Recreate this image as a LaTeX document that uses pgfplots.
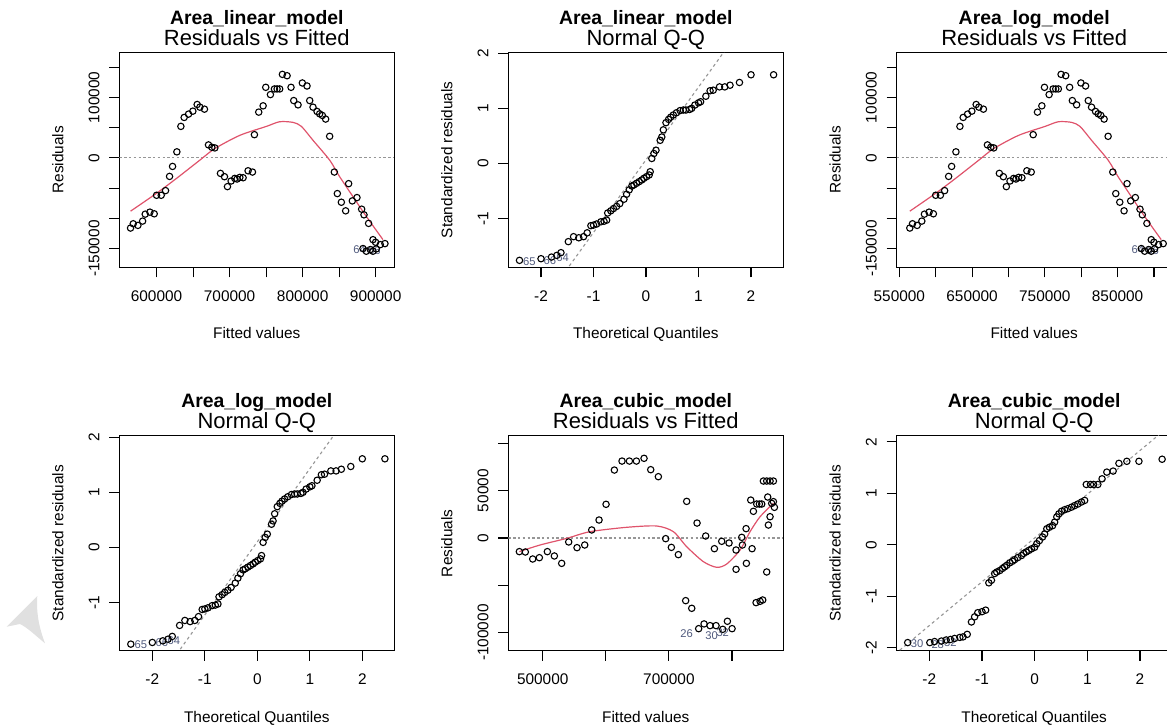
\documentclass[border=0pt]{standalone}
\usepackage{fontspec}
\setmainfont{Liberation Sans}
\usepackage{pgfplots}
\usepackage{pgfplotstable}
\pgfplotsset{compat=1.18}

\definecolor{lowess}{HTML}{DF536B}
\definecolor{idlab}{RGB}{80,90,125}
\definecolor{refgray}{RGB}{150,150,150}

\newcommand\tk{\fontsize{7.7bp}{9bp}\selectfont}
\newcommand\capt{\fontsize{11bp}{13bp}\selectfont}
\newcommand\mtitle{\fontsize{9.7bp}{11bp}\selectfont\bfseries}
\newcommand\idf{\fontsize{5.6bp}{6.5bp}\selectfont}

% residuals vs fitted, linear / log model
\pgfplotstableread{
x y
564400 -116100
568100 -109000
574500 -111700
580900 -104600
584500 -93100
590900 -89800
596800 -92500
600000 -61900
606400 -61900
612300 -54200
617800 -30700
621900 -14200
627800 9900
633300 52000
637800 66800
643800 72300
649700 77200
655600 88200
659300 83800
665600 80500
671100 21400
675700 17500
679800 16400
687500 -25700
693000 -31200
697100 -47600
702100 -38300
707100 -34000
710300 -35000
714000 -32300
718500 -32900
725300 -21400
731300 -23500
734000 38300
739900 75600
745900 86000
749500 116600
755900 104600
761400 113900
765000 113900
768600 113900
772300 138000
778700 135800
784100 116600
787800 94700
793700 87600
799600 123800
806000 118800
809700 94700
814200 83800
819700 76700
823300 72800
827000 70100
831500 64100
837000 35600
843400 -23500
847500 -59100
853000 -73400
858900 -87600
863000 -42700
868000 -71200
874400 -65700
880800 -84900
884000 -94200
890300 -108400
896300 -135300
899900 -139600
906300 -143500
912700 -141800
882600 -150000
887200 -154400
892600 -151700
896300 -154400
900800 -150600
}\rvfA

\pgfplotstableread{
x y
564400 -88200
600000 -58600
627300 -34000
659300 -3800
679800 15300
714000 37200
750400 52000
768600 59700
786900 58600
798300 52000
814200 29000
837000 -3800
850700 -31200
868900 -64100
887200 -96900
910000 -135300
}\lowA

% normal Q-Q, linear / log model
\pgfplotstableread{
x y
-2.41 -1.76
-2.00 -1.73
-1.80 -1.70
-1.70 -1.67
-1.62 -1.62
-1.48 -1.42
-1.38 -1.33
-1.28 -1.35
-1.19 -1.33
-1.12 -1.26
-1.05 -1.13
-1.00 -1.12
-0.94 -1.10
-0.86 -1.06
-0.80 -1.05
-0.75 -1.03
-0.73 -0.90
-0.67 -0.86
-0.62 -0.82
-0.56 -0.78
-0.50 -0.73
-0.42 -0.65
-0.37 -0.56
-0.32 -0.48
-0.27 -0.41
-0.23 -0.39
-0.18 -0.36
-0.13 -0.33
-0.08 -0.30
-0.04 -0.27
0.01 -0.24
0.06 -0.21
0.08 -0.15
0.11 0.09
0.15 0.18
0.19 0.24
0.27 0.42
0.30 0.48
0.33 0.61
0.38 0.74
0.43 0.80
0.47 0.84
0.52 0.88
0.58 0.92
0.65 0.96
0.71 0.97
0.76 0.97
0.83 0.98
0.87 1.00
0.93 1.06
1.00 1.10
1.04 1.12
1.14 1.22
1.22 1.32
1.28 1.33
1.40 1.39
1.50 1.39
1.60 1.42
1.78 1.47
2.00 1.61
2.43 1.61
}\qqA

% residuals vs fitted, cubic model
\pgfplotstableread{
x y
463000 -14400
472500 -14800
484200 -22200
494700 -20800
507400 -14400
518500 -19000
530100 -26800
541200 -4200
554400 -10200
566600 -7400
577700 8500
589300 19000
600400 35600
613600 71800
625700 81300
637400 81300
648500 81300
660600 84200
671200 72200
683300 64800
694900 -700
703900 -9900
715000 -17600
728200 38700
726600 -66200
736200 -74300
744600 15800
747200 -95800
755700 -90800
758300 2100
765200 -92600
772100 -11300
774700 -92600
783700 -3500
785300 -96500
792700 -88000
795300 -5300
800100 -95800
806400 -12700
806400 -33100
815400 700
816500 -7400
822300 9900
822800 -26800
831800 -11300
829700 40100
833900 28200
839200 35900
843400 35900
847100 35900
838100 -68300
844500 -66900
848700 -65500
849700 60200
855000 60200
860300 60200
865600 60200
855000 -35900
856600 43300
857700 13700
860300 22500
862900 36600
865600 38400
867200 32400
}\rvfC

\pgfplotstableread{
x y
463000 -14400
495800 -7400
538000 -400
575000 6700
633100 11300
680700 12700
707100 6700
728200 -9200
754600 -25000
775800 -31000
791600 -27500
812800 -12700
828600 6700
844500 22500
865600 36600
}\lowC

% normal Q-Q, cubic model
\pgfplotstableread{
x y
-2.41 -1.90
-1.99 -1.90
-1.90 -1.88
-1.77 -1.87
-1.68 -1.85
-1.60 -1.84
-1.52 -1.82
-1.42 -1.80
-1.36 -1.79
-1.28 -1.74
-1.20 -1.50
-1.14 -1.40
-1.08 -1.32
-1.00 -1.30
-0.93 -1.27
-0.87 -0.74
-0.82 -0.69
-0.76 -0.56
-0.72 -0.53
-0.66 -0.50
-0.61 -0.46
-0.57 -0.43
-0.53 -0.40
-0.47 -0.35
-0.42 -0.32
-0.38 -0.29
-0.32 -0.25
-0.25 -0.21
-0.21 -0.17
-0.16 -0.14
-0.11 -0.11
-0.06 -0.08
0.00 -0.05
0.04 0.02
0.09 0.08
0.15 0.15
0.19 0.21
0.23 0.31
0.28 0.34
0.34 0.37
0.38 0.44
0.42 0.54
0.46 0.60
0.51 0.65
0.57 0.68
0.63 0.70
0.70 0.73
0.76 0.76
0.82 0.79
0.89 0.83
0.95 0.86
0.98 1.17
1.06 1.17
1.12 1.17
1.20 1.17
1.28 1.28
1.37 1.41
1.49 1.43
1.60 1.58
1.75 1.62
1.98 1.62
2.42 1.66
}\qqC

\tikzset{idl/.style={font=\idf, text=idlab, inner sep=0pt}}

\pgfplotsset{
  rpanel/.style={
    anchor=north west, scale only axis, width=137.5bp, height=107.5bp,
    axis line style={line width=0.55bp},
    tick align=outside, tick pos=left, major tick length=5bp,
    every tick/.style={black, line width=0.55bp},
    scaled ticks=false,
    xticklabel style={font=\tk, anchor=base},
    yticklabel style={font=\tk, rotate=90, anchor=base},
    xticklabel shift=12bp, yticklabel shift=5bp,
    clip=true,
  },
  pts/.style={black, only marks, mark=o, mark size=1.6bp,
    mark options={line width=0.55bp}},
  zero/.style={refgray, dash pattern=on 1.2bp off 1.2bp, line width=0.55bp},
  qql/.style={refgray, dash pattern=on 1.5bp off 1.5bp, line width=0.55bp},
  low/.style={lowess, line width=0.6bp, no marks, smooth, tension=0.45},
  rvfticks/.style={
    ytick={-150000,-100000,-50000,0,50000,100000,150000},
    yticklabels={-150000,,,0,,100000,},
    ymin=-181000, ymax=174500},
  qqticks/.style={xtick={-2,-1,0,1,2}, xticklabels={-2,-1,0,1,2}},
}

\begin{document}
\begin{tikzpicture}
\useasboundingbox (0,0) rectangle (583.5bp,-363.5bp);

% ---- row 1
\begin{axis}[rpanel, name=p1, at={(59.65bp,-26.15bp)}, rvfticks,
  xmin=549000, xmax=925500,
  xtick={600000,650000,700000,750000,800000,850000,900000},
  xticklabels={600000,,700000,,800000,,900000}]
\addplot[zero] coordinates {(549000,0) (925500,0)};
\addplot[pts] table {\rvfA};
\addplot[low] table {\lowA};
\node[idl, anchor=east] at (axis cs:887000,-152500) {64};
\node[idl, anchor=west] at (axis cs:889000,-153500) {66};
\end{axis}

\begin{axis}[rpanel, name=p2, at={(254.15bp,-26.15bp)}, qqticks,
  xmin=-2.623, xmax=2.615, ymin=-1.886, ymax=2.018,
  ytick={-1,0,1,2}, yticklabels={-1,0,1,2}]
\addplot[qql] coordinates {(-3,-3.894) (3,4.026)};
\addplot[pts] table {\qqA};
\node[idl] at (axis cs:-2.22,-1.79) {65};
\node[idl] at (axis cs:-1.83,-1.77) {66};
\node[idl] at (axis cs:-1.59,-1.71) {64};
\end{axis}

\begin{axis}[rpanel, name=p3, at={(448.35bp,-26.15bp)}, rvfticks,
  xmin=546400, xmax=924400,
  xtick={550000,600000,650000,700000,750000,800000,850000,900000},
  xticklabels={550000,,650000,,750000,,850000,}]
\addplot[zero] coordinates {(546400,0) (924400,0)};
\addplot[pts] table {\rvfA};
\addplot[low] table {\lowA};
\node[idl, anchor=east] at (axis cs:887000,-152500) {64};
\node[idl, anchor=west] at (axis cs:889000,-153500) {66};
\end{axis}

% ---- row 2
\begin{axis}[rpanel, name=p4, at={(59.65bp,-217.85bp)}, qqticks,
  xmin=-2.629, xmax=2.609, ymin=-1.88, ymax=2.03,
  ytick={-1,0,1,2}, yticklabels={-1,0,1,2}]
\addplot[qql] coordinates {(-3,-3.89) (3,4.09)};
\addplot[pts] table {\qqA};
\node[idl] at (axis cs:-2.22,-1.77) {65};
\node[idl] at (axis cs:-1.82,-1.74) {66};
\node[idl] at (axis cs:-1.59,-1.70) {64};
\end{axis}

\begin{axis}[rpanel, name=p5, at={(254.15bp,-217.85bp)},
  xmin=445500, xmax=881300, ymin=-119100, ymax=108100,
  xtick={500000,600000,700000,800000}, xticklabels={500000,,700000,},
  ytick={-100000,-50000,0,50000,100000}, yticklabels={-100000,,0,50000,}]
\addplot[zero] coordinates {(445500,0) (881300,0)};
\addplot[pts] table {\rvfC};
\addplot[low] table {\lowC};
\node[idl] at (axis cs:728200,-101400) {26};
\node[idl] at (axis cs:767800,-103500) {30};
\node[idl] at (axis cs:785300,-100000) {32};
\end{axis}

\begin{axis}[rpanel, name=p6, at={(448.35bp,-217.85bp)}, qqticks,
  xmin=-2.619, xmax=2.602, ymin=-2.058, ymax=2.117,
  ytick={-2,-1,0,1,2}, yticklabels={-2,-1,0,1,2}]
\addplot[qql] coordinates {(-3,-2.42) (3,2.68)};
\addplot[pts] table {\qqC};
\node[idl] at (axis cs:-2.23,-1.93) {30};
\node[idl] at (axis cs:-1.84,-1.94) {28};
\node[idl] at (axis cs:-1.60,-1.90) {32};
\end{axis}

% ---- titles and axis labels
\foreach \p/\m/\c/\xl/\yl in {
  p1/Area\_linear\_model/Residuals vs Fitted/Fitted values/Residuals,
  p2/Area\_linear\_model/Normal Q-Q/Theoretical Quantiles/Standardized residuals,
  p3/Area\_log\_model/Residuals vs Fitted/Fitted values/Residuals,
  p4/Area\_log\_model/Normal Q-Q/Theoretical Quantiles/Standardized residuals,
  p5/Area\_cubic\_model/Residuals vs Fitted/Fitted values/Residuals,
  p6/Area\_cubic\_model/Normal Q-Q/Theoretical Quantiles/Standardized residuals}{
  \node[font=\mtitle, anchor=base] at ([yshift=14.15bp]\p.north) {\m};
  \node[font=\capt, anchor=base] at ([yshift=3.65bp]\p.north) {\c};
  \node[font=\tk, anchor=base] at ([yshift=-35.65bp]\p.south) {\xl};
  \node[font=\tk, anchor=base, rotate=90] at ([xshift=-28bp]\p.west) {\yl};
}

% faint watermark, lower left
\begin{scope}[x=0.5bp, y=-0.5bp]
\fill[black!12] (6.7,626.7) -- (37.3,596) .. controls (36,615) and (40,630) .. (45,643.3)
  .. controls (36,636) and (28,628) .. (20,624) -- cycle;
\end{scope}
\end{tikzpicture}
\end{document}
